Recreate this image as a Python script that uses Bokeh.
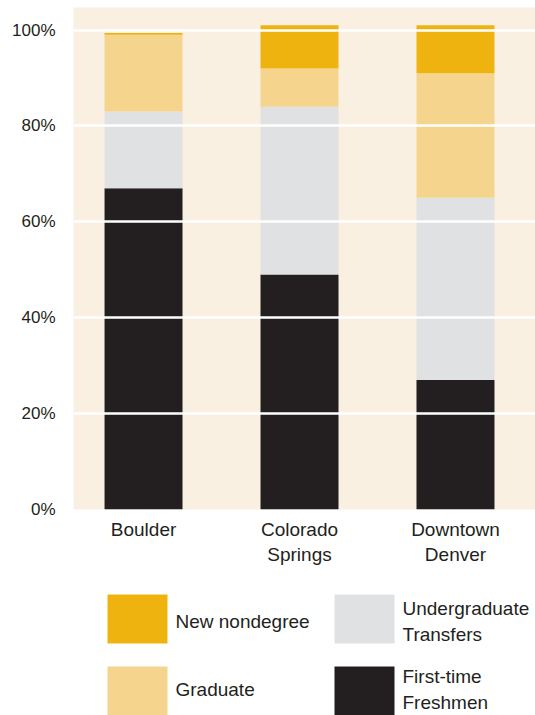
from bokeh.plotting import figure
from bokeh.layouts import column
from bokeh.models import FixedTicker, PrintfTickFormatter, Range1d, ColumnDataSource
from bokeh.core.properties import value
from bokeh.embed import file_html
from bokeh.resources import INLINE

campuses = ["Boulder", "Colorado\nSprings", "Downtown\nDenver"]
freshmen = [67, 49, 27]
transfers = [16, 35, 38]
graduate = [16, 8, 26]
nondegree = [0.4, 9, 10]
y_ticks = [0, 20, 40, 60, 80, 100]

series = ["freshmen", "transfers", "graduate", "nondegree"]
colors = ["#231F20", "#E0E1E2", "#F5D48D", "#EFB30F"]

legend_labels = ["New nondegree", "Graduate", "Undergraduate\nTransfers", "First-time\nFreshmen"]
legend_colors = ["#EFB30F", "#F5D48D", "#E0E1E2", "#231F20"]

FONT = "Liberation Sans"
TXT = "#231F20"
W = 535
MAIN_H = 585
LEG_H = 130
FRAME_L = 73

xs = list(range(len(campuses)))
src = ColumnDataSource(dict(x=xs, freshmen=freshmen, transfers=transfers,
                            graduate=graduate, nondegree=nondegree))

p = figure(width=W, height=MAIN_H, output_backend="svg", toolbar_location=None,
           x_range=Range1d(-0.449, 2.513), y_range=Range1d(0, 104.7),
           min_border_left=FRAME_L, min_border_right=0, min_border_top=7,
           min_border_bottom=MAIN_H - 509)
p.background_fill_color = "#FAF0E1"
p.border_fill_color = "white"
p.outline_line_color = None
p.vbar_stack(series, x="x", width=0.5, source=src, color=colors, line_color=None)

p.xaxis.ticker = FixedTicker(ticks=xs)
p.xaxis.major_label_overrides = {i: c for i, c in enumerate(campuses)}
p.yaxis.ticker = FixedTicker(ticks=y_ticks)
p.yaxis.formatter = PrintfTickFormatter(format="%d%%")
for ax in (p.xaxis[0], p.yaxis[0]):
    ax.axis_line_color = None
    ax.major_tick_line_color = None
    ax.minor_tick_line_color = None
    ax.major_label_text_font = FONT
    ax.major_label_text_color = TXT
p.xaxis.major_label_text_font_size = "19px"
p.yaxis.major_label_text_font_size = "17px"
p.xaxis.major_label_standoff = 3
p.yaxis.major_label_standoff = 12
p.xgrid.grid_line_color = None
p.ygrid.ticker = FixedTicker(ticks=y_ticks)
p.ygrid.grid_line_color = "white"
p.ygrid.grid_line_width = 2.5
p.ygrid.level = "annotation"

# legend figure: data coordinates equal page pixels
lg = figure(width=W, height=LEG_H, output_backend="svg", toolbar_location=None,
            x_range=Range1d(FRAME_L, W), y_range=Range1d(MAIN_H + LEG_H, MAIN_H),
            min_border_left=FRAME_L, min_border_right=0, min_border_top=0, min_border_bottom=0)
lg.axis.visible = False
lg.grid.visible = False
lg.outline_line_color = None
lg.background_fill_color = "white"
col_x = [137, 364]
row_y = [618.5, 690.5]
text_dy = [2.5, -1.5]
lx, ly, tx, ty = [], [], [], []
for i, lab in enumerate(legend_labels):
    c, r = divmod(i, 2)
    lx.append(col_x[c]); ly.append(row_y[r]); tx.append(col_x[c] + 38); ty.append(row_y[r] + text_dy[r])
lsrc = ColumnDataSource(dict(x=lx, y=ly, tx=tx, ty=ty, label=legend_labels, color=legend_colors))
lg.rect(x="x", y="y", width=60, height=49, source=lsrc, fill_color="color", line_color=None)
lg.text(x="tx", y="ty", text="label", source=lsrc, text_font=value(FONT),
        text_font_size="19px", text_color=TXT, text_baseline="middle", text_align="left",
        text_line_height=1.2)

layout = column(p, lg, spacing=0)
open("out.html", "w").write(file_html(layout, INLINE))
